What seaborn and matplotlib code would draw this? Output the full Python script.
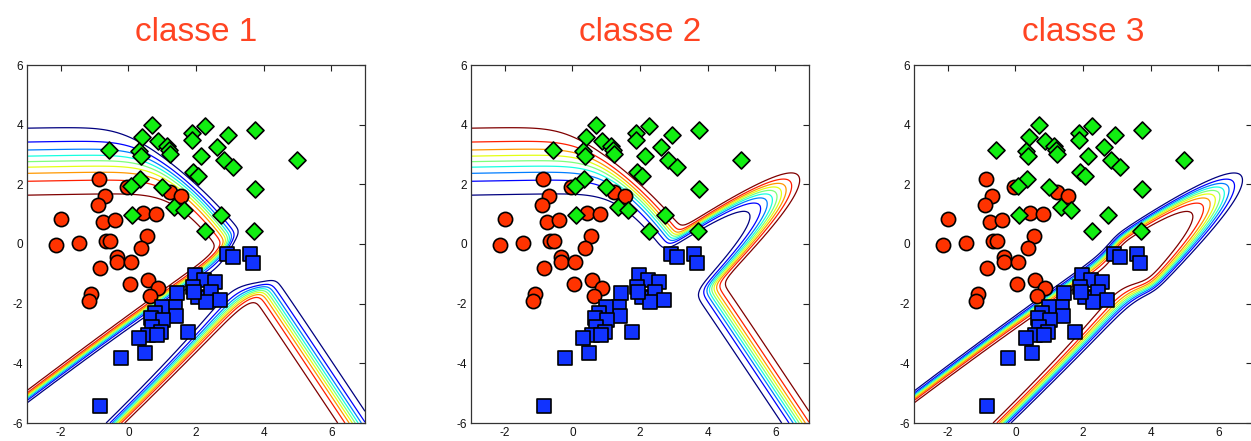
import numpy as np
import matplotlib
matplotlib.use("Agg")
import matplotlib.pyplot as plt
import seaborn as sns
import pandas as pd

# ---------------- data ----------------
titles = ["classe 1", "classe 2", "classe 3"]

red_x = [-0.88, -0.70, -0.90, -1.98, -0.75, -0.40, -2.13, -1.47, -0.66, -0.54,
         -0.03, 0.43, 0.82, 0.55, 0.38, -0.35, -0.35, 0.07, -0.85, 0.58,
         0.05, 0.87, 0.64, -1.10, -1.18, 1.23, 1.57]
red_y = [2.17, 1.61, 1.31, 0.84, 0.75, 0.79, -0.03, 0.05, 0.09, 0.09,
         1.92, 1.03, 1.02, 0.28, -0.12, -0.45, -0.60, -0.59, -0.79, -1.19,
         -1.35, -1.46, -1.73, -1.66, -1.91, 1.75, 1.62]

green_x = [0.70, 0.39, -0.56, 0.31, 0.37, 0.89, 1.13, 1.20, 1.23, 1.87,
           1.89, 2.28, 2.14, 2.61, 2.94, 2.82, 3.10, 3.74, 4.98, 1.90,
           2.05, 3.74, 0.35, 0.08, 0.98, 1.35, 1.65, 0.12, 2.75, 2.28, 3.71]
green_y = [3.98, 3.59, 3.15, 3.13, 2.95, 3.46, 3.28, 3.15, 3.02, 3.73,
           3.50, 3.95, 2.95, 3.26, 3.65, 2.81, 2.57, 3.82, 2.81, 2.42,
           2.27, 1.86, 2.17, 1.93, 1.90, 1.25, 1.14, 0.98, 0.97, 0.44, 0.44]

blue_x = [2.92, 3.08, 3.61, 3.70, 1.96, 2.25, 2.55, 1.92, 2.05, 2.35,
          2.45, 2.70, 2.30, 1.45, 1.38, 1.40, 0.98, 0.80, 0.66, 1.02,
          0.70, 0.95, 0.58, 0.30, 0.85, 1.75, -0.22, 0.50, -0.84, 1.95]
blue_y = [-0.33, -0.45, -0.33, -0.65, -1.04, -1.21, -1.28, -1.43, -1.76, -1.82,
          -1.62, -1.88, -1.95, -1.65, -2.10, -2.40, -2.10, -2.32, -2.48, -2.55,
          -2.78, -2.95, -3.05, -3.16, -3.05, -2.94, -3.83, -3.66, -5.42, -1.60]

x_ticks = [-2, 0, 2, 4, 6]
y_ticks = [-6, -4, -2, 0, 2, 4, 6]
contour_levels = [0.1, 0.2, 0.3, 0.4, 0.5, 0.6, 0.7, 0.8, 0.9]

# small tanh network (hidden units A, R, P, Q, F) giving the class posteriors
hid_wx = [-0.02, 1.7, 0.88, -1.0, 2.3]
hid_wy = [1.0, 1.0, -1.0, 1.0, -1.0]
hid_b = [-2.82, -5.41, -2.39, 6.1, -13.65]
hid_k = [0.55, 0.7, 1.17, 0.82, 0.1]
out_w1 = [0, 0, 0, 0, 0]
out_w2 = [4, 4, 0, 0, 0]
out_w3 = [0, 4, 10, 10, -12]
out_b = [0, 4, -18]

# ---------------- model field ----------------
gx = np.linspace(-3, 7, 201)
gy = np.linspace(-6, 6, 241)
GX, GY = np.meshgrid(gx, gy)
H = np.stack([np.tanh(k * (wx * GX + wy * GY + b))
              for wx, wy, b, k in zip(hid_wx, hid_wy, hid_b, hid_k)])
logits = np.stack([np.tensordot(np.array(w, float), H, axes=1) + bb
                   for w, bb in zip([out_w1, out_w2, out_w3], out_b)])
logits -= logits.max(axis=0, keepdims=True)
P = np.exp(logits)
P /= P.sum(axis=0, keepdims=True)

# ---------------- plot ----------------
sns.set_style("white")
plt.rcParams['font.family'] = ['Liberation Sans', 'DejaVu Sans']

fig = plt.figure(figsize=(12.51, 4.41), dpi=100)
lefts = [27 / 1251, 471 / 1251, 914 / 1251]
W, Hh = 338 / 1251, 358 / 441
B = 18 / 441

red_df = pd.DataFrame({"x": red_x, "y": red_y})
green_df = pd.DataFrame({"x": green_x, "y": green_y})
blue_df = pd.DataFrame({"x": blue_x, "y": blue_y})

for i in range(3):
    ax = fig.add_axes([lefts[i], B, W, Hh])
    ax.contour(GX, GY, P[i], levels=contour_levels, cmap="jet",
               linewidths=0.9, zorder=1)
    sns.scatterplot(data=red_df, x="x", y="y", ax=ax, marker="o", s=105,
                    color="#ff3300", edgecolor="black", linewidth=1.2, zorder=3)
    sns.scatterplot(data=green_df, x="x", y="y", ax=ax, marker="D", s=75,
                    color="#11ee11", edgecolor="black", linewidth=1.2, zorder=3)
    sns.scatterplot(data=blue_df, x="x", y="y", ax=ax, marker="s", s=90,
                    color="#1133ff", edgecolor="black", linewidth=1.2, zorder=3)
    ax.set_xlim(-3, 7)
    ax.set_ylim(-6, 6)
    ax.set_xticks(x_ticks)
    ax.set_yticks(y_ticks)
    ax.set_xticklabels([str(t) for t in x_ticks])
    ax.set_yticklabels([str(t) for t in y_ticks])
    ax.set_xlabel("")
    ax.set_ylabel("")
    ax.tick_params(direction="in", length=4, width=0.8, top=True, right=True,
                   labelsize=8.5, pad=3, colors="#222222", labelcolor="#111111")
    for sp in ax.spines.values():
        sp.set_visible(True)
        sp.set_color("#333333")
        sp.set_linewidth(0.9)
    ax.set_title(titles[i], color="#ff4422", fontsize=24, pad=17)

fig.savefig("out.png", dpi=100)
